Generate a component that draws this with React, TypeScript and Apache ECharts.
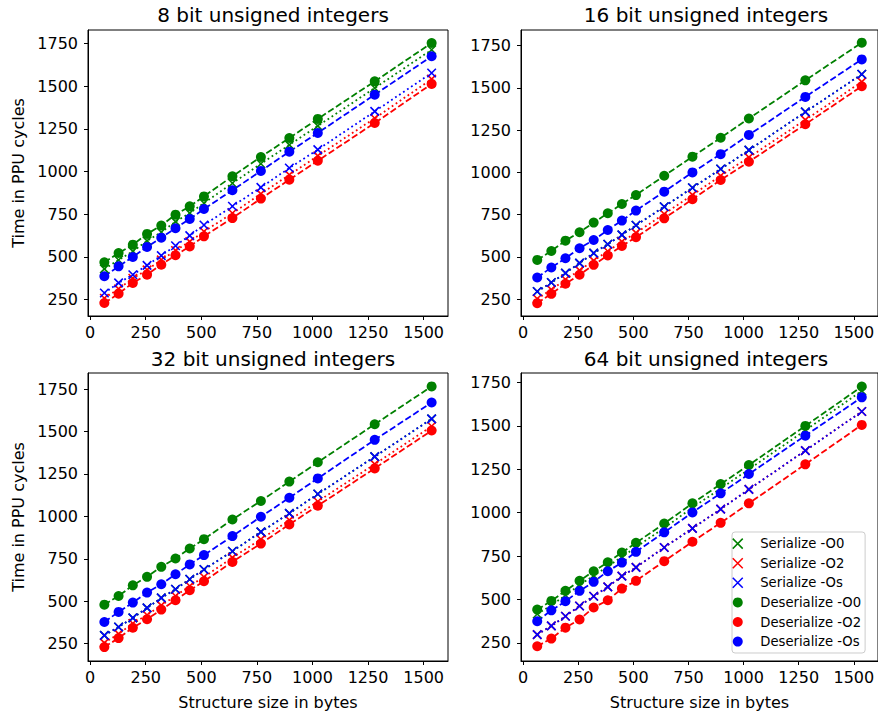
import React, { useEffect, useRef } from "react";
import * as echarts from "echarts";

const sizes = [64, 128, 192, 256, 320, 384, 448, 512, 640, 768, 896, 1024, 1280, 1536];

const titles = [
  "8 bit unsigned integers",
  "16 bit unsigned integers",
  "32 bit unsigned integers",
  "64 bit unsigned integers",
];

const seriesNames = [
  "Serialize -O0",
  "Serialize -O2",
  "Serialize -Os",
  "Deserialize -O0",
  "Deserialize -O2",
  "Deserialize -Os",
];

// 8 bit
const u8SerO0 = [430, 482, 533, 594, 645, 707, 757, 815, 932, 1046, 1157, 1268, 1490, 1714];
const u8SerO2 = [258, 313, 375, 424, 483, 538, 590, 649, 756, 870, 981, 1092, 1313, 1542];
const u8SerOs = [289, 348, 396, 451, 508, 566, 625, 687, 797, 908, 1021, 1129, 1353, 1578];
const u8DesO0 = [469, 523, 572, 635, 684, 748, 797, 855, 973, 1086, 1197, 1309, 1529, 1754];
const u8DesO2 = [230, 285, 348, 396, 455, 510, 562, 621, 728, 842, 953, 1064, 1285, 1514];
const u8DesOs = [387, 445, 500, 559, 613, 668, 723, 781, 891, 1004, 1117, 1227, 1451, 1676];

// 16 bit
const u16SerO0 = [295, 348, 404, 463, 522, 575, 630, 687, 797, 909, 1020, 1132, 1358, 1581];
const u16SerO2 = [252, 306, 366, 420, 478, 533, 590, 642, 754, 867, 980, 1089, 1311, 1536];
const u16SerOs = [295, 348, 404, 463, 522, 575, 630, 687, 797, 909, 1020, 1132, 1358, 1581];
const u16DesO0 = [482, 535, 596, 646, 703, 758, 813, 866, 980, 1093, 1205, 1319, 1545, 1768];
const u16DesO2 = [226, 281, 341, 394, 453, 508, 565, 616, 728, 841, 955, 1063, 1285, 1510];
const u16DesOs = [378, 437, 492, 551, 600, 659, 715, 774, 886, 1000, 1108, 1222, 1447, 1669];

// 32 bit
const u32SerO0 = [299, 348, 402, 461, 520, 571, 630, 687, 795, 909, 1018, 1132, 1352, 1575];
const u32SerO2 = [255, 308, 369, 419, 476, 531, 590, 643, 757, 865, 978, 1088, 1308, 1531];
const u32SerOs = [299, 348, 402, 461, 520, 571, 630, 687, 795, 909, 1018, 1132, 1352, 1575];
const u32DesO0 = [480, 531, 594, 644, 703, 752, 811, 866, 982, 1091, 1205, 1319, 1543, 1766];
const u32DesO2 = [230, 283, 344, 394, 451, 506, 565, 618, 732, 840, 953, 1063, 1283, 1506];
const u32DesOs = [378, 437, 492, 551, 600, 659, 717, 772, 884, 998, 1110, 1224, 1451, 1671];

// 64 bit
const u64SerO0 = [417, 467, 525, 583, 638, 690, 746, 802, 913, 1029, 1140, 1250, 1475, 1702];
const u64SerO2 = [298, 348, 404, 463, 519, 573, 635, 685, 800, 910, 1021, 1135, 1358, 1583];
const u64SerOs = [298, 348, 404, 463, 519, 573, 635, 685, 800, 910, 1021, 1135, 1358, 1583];
const u64DesO0 = [442, 492, 550, 608, 663, 715, 771, 827, 938, 1054, 1165, 1275, 1500, 1727];
const u64DesO2 = [231, 275, 338, 385, 454, 496, 563, 608, 721, 833, 942, 1054, 1279, 1506];
const u64DesOs = [375, 438, 490, 550, 602, 663, 713, 775, 887, 1002, 1112, 1223, 1444, 1665];

const panels = [
  [u8SerO0, u8SerO2, u8SerOs, u8DesO0, u8DesO2, u8DesOs],
  [u16SerO0, u16SerO2, u16SerOs, u16DesO0, u16DesO2, u16DesOs],
  [u32SerO0, u32SerO2, u32SerOs, u32DesO0, u32DesO2, u32DesOs],
  [u64SerO0, u64SerO2, u64SerOs, u64DesO0, u64DesO2, u64DesOs],
];

// axis limits (matplotlib auto margins)
const yMins = [154, 150, 148, 146];
const yMaxs = [1830, 1843, 1845, 1805];
const xMin = -9.6;
const xMax = 1609.6;

const FONT = "DejaVu Sans";
const COLORS = ["#008000", "#ff0000", "#0000ff", "#008000", "#ff0000", "#0000ff"];
const X_PATH = "path://M0,0L10,10M10,0L0,10";

const grids = [
  { left: 88, top: 30, width: 360, height: 286 },
  { left: 521, top: 30, width: 360, height: 286 },
  { left: 88, top: 373, width: 360, height: 288 },
  { left: 521, top: 373, width: 360, height: 288 },
];

export default function App() {
  const ref = useRef<HTMLDivElement>(null);

  useEffect(() => {
    if (!ref.current) return;
    const chart = echarts.init(ref.current, undefined, { renderer: "svg" });

    const axisCommon = {
      axisLine: { show: true, onZero: false, lineStyle: { color: "#000", width: 1 } },
      axisTick: { show: true, inside: false, length: 4, lineStyle: { color: "#000", width: 1 } },
      splitLine: { show: false },
    };

    const labelCommon = {
      show: true,
      showMinLabel: false,
      showMaxLabel: false,
      color: "#000",
      fontSize: 16,
      fontFamily: FONT,
      formatter: (v: number) => String(v),
    };

    const xAxes = grids.map((_, i) => ({
      type: "value",
      gridIndex: i,
      min: xMin,
      max: xMax,
      minInterval: 250,
      maxInterval: 250,
      ...axisCommon,
      axisLabel: { ...labelCommon, margin: 8 },
      name: i >= 2 ? "Structure size in bytes" : "",
      nameLocation: "middle",
      nameGap: 33,
      nameTextStyle: { color: "#000", fontSize: 16, fontFamily: FONT },
    }));

    const yAxes = grids.map((_, i) => ({
      type: "value",
      gridIndex: i,
      min: yMins[i],
      max: yMaxs[i],
      minInterval: 250,
      maxInterval: 250,
      ...axisCommon,
      axisLabel: { ...labelCommon, margin: 10 },
      name: i % 2 === 0 ? "Time in PPU cycles" : "",
      nameLocation: "middle",
      nameGap: 62,
      nameTextStyle: { color: "#000", fontSize: 16, fontFamily: FONT },
    }));

    const series: any[] = [];
    panels.forEach((panel, gi) => {
      panel.forEach((vals, si) => {
        const isSer = si < 3;
        const c = COLORS[si];
        series.push({
          type: "line",
          name: seriesNames[si],
          xAxisIndex: gi,
          yAxisIndex: gi,
          data: sizes.map((s, k) => [s, vals[k]]),
          symbol: isSer ? X_PATH : "circle",
          symbolSize: isSer ? 8.5 : 10,
          symbolKeepAspect: true,
          showSymbol: true,
          itemStyle: isSer
            ? { color: c, borderColor: c, borderWidth: 1.6 }
            : { color: c, borderWidth: 0 },
          lineStyle: {
            color: c,
            width: 1.8,
            type: isSer ? [1.8, 3] : [6.5, 2.8],
            cap: "butt",
          },
          emphasis: { disabled: true },
          silent: true,
          clip: false,
        });
      });
    });

    const titleOpts = titles.map((t, i) => ({
      text: t,
      left: grids[i].left + 180,
      top: i < 2 ? 0 : 344,
      textAlign: "center",
      textStyle: { color: "#000", fontSize: 20, fontWeight: "normal", fontFamily: FONT },
    }));

    chart.setOption({
      animation: false,
      backgroundColor: "#ffffff",
      title: titleOpts,
      grid: grids.map((g) => ({
        ...g,
        show: true,
        borderColor: "#000",
        borderWidth: 1,
        backgroundColor: "transparent",
      })),
      xAxis: xAxes,
      yAxis: yAxes,
      legend: {
        show: true,
        orient: "vertical",
        left: 732,
        top: 532,
        itemWidth: 35,
        itemHeight: 10,
        itemGap: 5.6,
        padding: [4.6, 4, 4.4, 0],
        backgroundColor: "rgba(255,255,255,0.8)",
        borderColor: "#cccccc",
        borderWidth: 1,
        borderRadius: 3,
        selectedMode: false,
        textStyle: { color: "#000", fontSize: 13.2, fontFamily: FONT, lineHeight: 14 },
        data: seriesNames.map((n, i) =>
          i < 3
            ? { name: n, icon: X_PATH, itemStyle: { borderWidth: 1.5, borderColor: COLORS[i], color: COLORS[i] } }
            : { name: n, icon: "circle", itemStyle: { borderWidth: 0, color: COLORS[i] } }
        ),
      },
      series,
    });

    return () => {
      chart.dispose();
    };
  }, []);

  return (
    <div
      ref={ref}
      style={{ position: "absolute", left: 0, top: 0, width: 878, height: 715 }}
    />
  );
}
